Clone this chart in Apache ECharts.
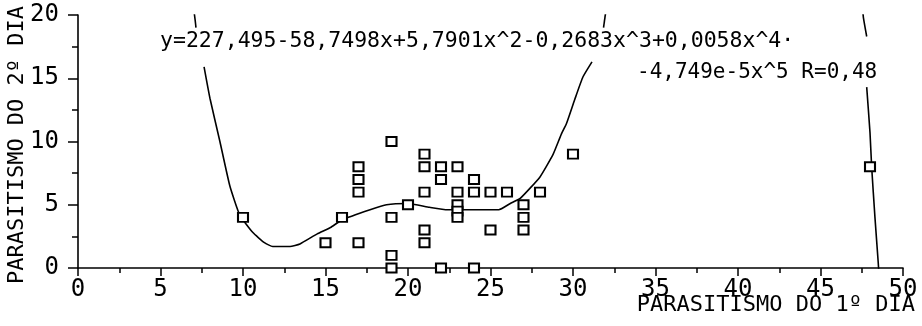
<!DOCTYPE html>
<html>
<head>
<meta charset="utf-8">
<script src="https://cdn.jsdelivr.net/npm/echarts@6/dist/echarts.min.js"></script>
<style>
  html, body { margin: 0; padding: 0; background: #fff; }
  #chart { width: 922px; height: 326px; }
</style>
</head>
<body>
<div id="chart"></div>
<script>
// observed points: [parasitismo 1º dia, parasitismo 2º dia]
const observed = [
  [10, 4], [15, 2], [16, 4],
  [17, 8], [17, 7], [17, 6], [17, 2],
  [19, 10], [19, 4], [19, 1], [19, 0],
  [20, 5],
  [21, 9], [21, 8], [21, 6], [21, 3], [21, 2],
  [22, 8], [22, 7], [22, 0],
  [23, 8], [23, 6], [23, 5], [23, 4.5], [23, 4],
  [24, 7], [24, 6], [24, 0],
  [25, 6], [25, 3], [26, 6],
  [27, 5], [27, 4], [27, 3],
  [28, 6], [30, 9], [48, 8]
]

// fitted curve (gaps where the equation text sits)
const curveLeftTop = [[7.0, 20.6], [7.1, 19.6], [7.15, 19.0]]
const curveMain = [
  [7.64, 15.9], [8.0, 13.4], [8.6, 10.0], [9.2, 6.5], [9.8, 4.2],
  [10.6, 2.8], [11.3, 2.0], [11.8, 1.7], [12.85, 1.7], [13.45, 1.9],
  [14.5, 2.7], [15.3, 3.2], [16.0, 3.8], [17.7, 4.6], [18.7, 5.0],
  [20.0, 5.1], [21.3, 4.8], [22.4, 4.6], [23.0, 4.6], [25.5, 4.6],
  [26.2, 5.1], [26.8, 5.5], [28.0, 7.2], [28.8, 9.0], [29.3, 10.6],
  [29.6, 11.4], [30.1, 13.3], [30.6, 15.1], [31.15, 16.3]
]
const curveRightTop = [[31.85, 19.0], [32.0, 20.4]]
const curveRightHigh = [[47.55, 20.5], [47.6, 19.8], [47.8, 18.3]]
const curveRight = [
  [47.8, 14.3], [48.0, 10.7], [48.1, 8.0], [48.3, 4.0], [48.5, 0.4], [48.55, -0.6]
]

const xTicks = { min: 0, max: 50, interval: 5 }
const yTicks = { min: 0, max: 20, interval: 5 }

const xTitle = 'PARASITISMO DO 1º DIA'
const yTitle = 'PARASITISMO DO 2º DIA'
const eqLine1 = 'y=227,495-58,7498x+5,7901x^2-0,2683x^3+0,0058x^4·'
const eqLine2 = '-4,749e-5x^5 R=0,48'

const mono = '"DejaVu Sans Mono", "Liberation Mono", monospace'

const chart = echarts.init(document.getElementById('chart'))

function curveSeries(data) {
  return {
    type: 'line',
    data: data,
    showSymbol: false,
    smooth: 0.15,
    clip: true,
    lineStyle: { color: '#000', width: 1.6 },
    silent: true,
    z: 2
  }
}

chart.setOption({
  backgroundColor: '#fff',
  animation: false,
  grid: { left: 78, right: 19, top: 15, bottom: 58, containLabel: false, outerBoundsMode: 'none' },
  xAxis: {
    type: 'value',
    min: xTicks.min,
    max: xTicks.max,
    interval: xTicks.interval,
    axisLine: { lineStyle: { color: '#000', width: 1.6 } },
    axisTick: { length: 8, lineStyle: { color: '#000', width: 1.5 } },
    minorTick: { show: true, splitNumber: 2, length: 5, lineStyle: { color: '#000', width: 1.5 } },
    axisLabel: { fontFamily: mono, fontSize: 24, color: '#000', margin: 10 },
    splitLine: { show: false }
  },
  yAxis: {
    type: 'value',
    min: yTicks.min,
    max: yTicks.max,
    interval: yTicks.interval,
    axisLine: { show: true, lineStyle: { color: '#000', width: 1.6 } },
    axisTick: { show: true, length: 10, lineStyle: { color: '#000', width: 1.5 } },
    minorTick: { show: true, splitNumber: 2, length: 6, lineStyle: { color: '#000', width: 1.5 } },
    axisLabel: { fontFamily: mono, fontSize: 24, color: '#000', margin: 19 },
    splitLine: { show: false }
  },
  graphic: [
    {
      type: 'text', left: 160, top: 30, z: 10,
      style: { text: eqLine1, font: '21.5px ' + mono, fill: '#000' }
    },
    {
      type: 'text', left: 637, top: 62, z: 10,
      style: { text: eqLine2, font: '21px ' + mono, fill: '#000' }
    },
    {
      type: 'text', right: 7, top: 294, z: 10,
      style: { text: xTitle, font: '22px ' + mono, fill: '#000' }
    },
    {
      type: 'text', x: 17, y: 145, rotation: Math.PI / 2, z: 10,
      style: {
        text: yTitle, font: '22px ' + mono, fill: '#000',
        align: 'center', verticalAlign: 'middle'
      }
    }
  ],
  series: [
    curveSeries(curveLeftTop),
    curveSeries(curveMain),
    curveSeries(curveRightTop),
    curveSeries(curveRightHigh),
    curveSeries(curveRight),
    {
      type: 'scatter',
      data: observed,
      symbol: 'rect',
      symbolSize: [10, 9],
      itemStyle: { color: '#fff', borderColor: '#000', borderWidth: 2, opacity: 1 },
      clip: false,
      z: 3
    }
  ]
})
</script>
</body>
</html>
